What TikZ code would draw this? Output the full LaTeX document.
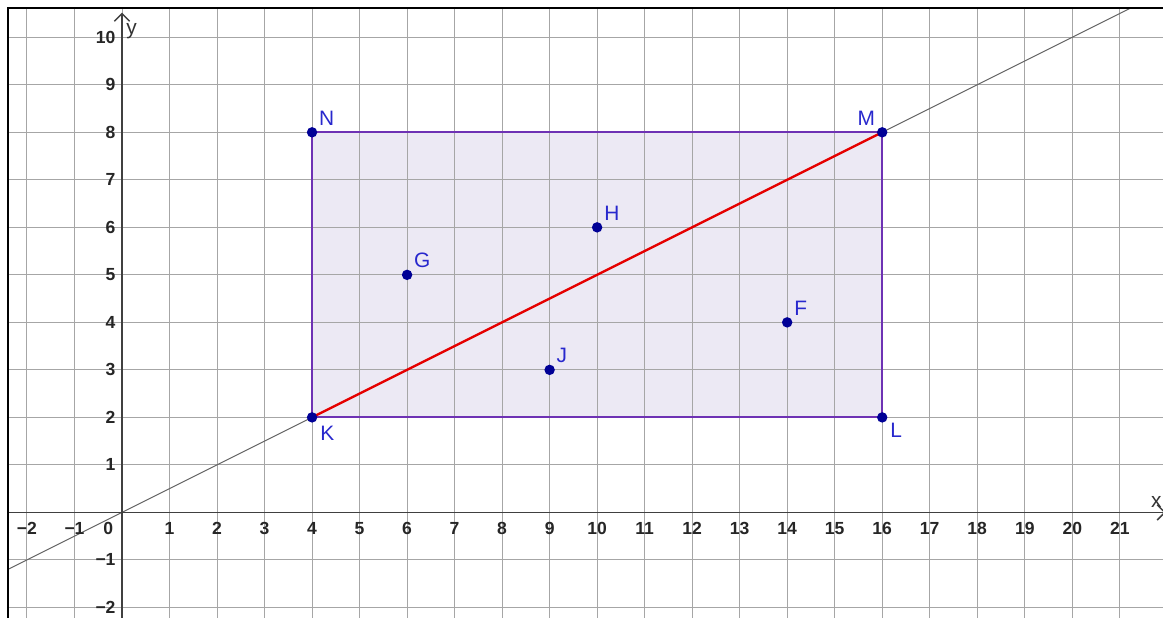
\documentclass[tikz,border=0pt]{standalone}
\usepackage{fontspec}
\setmainfont{Liberation Sans}
\usetikzlibrary{arrows.meta}

\definecolor{rectfill}{RGB}{233,229,242}
\definecolor{rectedge}{RGB}{110,50,180}
\definecolor{ptblue}{RGB}{0,0,150}
\definecolor{lblblue}{RGB}{40,40,205}

\begin{document}
\begin{tikzpicture}[
  >={Straight Barb[length=1.6mm,width=3.2mm]},
  gridline/.style={gray!70, line width=0.6pt},
  axis/.style={black!75, line width=0.9pt},
  ticklabel/.style={font=\bfseries\fontsize{10.5}{12}\selectfont, inner sep=0pt, text=black!85},
  pt/.style={circle, fill=ptblue, inner sep=0pt, minimum size=2.2mm},
  ptlabel/.style={text=lblblue, font=\fontsize{12.5}{14}\selectfont, inner sep=1pt, label distance=1pt},
  side/.style={draw=rectedge, line width=1.3pt},
  diag/.style={red!90!black, line width=1.4pt},
  through/.style={black!60, line width=0.6pt}
]
\useasboundingbox (-2.568,-2.205) rectangle (21.91,10.785);

% Frame and grid
\begin{scope}
  \clip (-2.40,-2.3) rectangle (21.95,10.617);
  \foreach \x in {-2,...,21}
    \draw[gridline] (\x,-2.3) -- (\x,10.7);
  \foreach \y in {-2,...,10}
    \draw[gridline] (-2.5,\y) -- (22,\y);

  % Rectangle KLMN
  \coordinate (K) at (4,2);
  \coordinate (L) at (16,2);
  \coordinate (M) at (16,8);
  \coordinate (N) at (4,8);
  \fill[rectfill, opacity=0.85] (K) -- (L) -- (M) -- (N) -- cycle;
  \foreach \x in {5,...,15}
    \draw[gridline] (\x,2) -- (\x,8);
  \foreach \y in {3,...,7}
    \draw[gridline] (4,\y) -- (16,\y);

  % Line y = x/2
  \coordinate (lineA) at (-2.8,-1.4);
  \coordinate (lineB) at (21.4,10.7);
  \draw[through] (lineA) -- (lineB);

  % Axes
  \coordinate (xstart) at (-2.5,0);
  \coordinate (xend) at (21.97,0);
  \coordinate (ystart) at (0,-2.3);
  \coordinate (yend) at (0,10.52);
  \draw[axis, ->] (xstart) -- (xend);
  \draw[axis, ->] (ystart) -- (yend);

  \draw[side] (K) -- (L) -- (M) -- (N) -- cycle;
  \draw[diag] (K) -- (M);
\end{scope}
\draw[line width=1.3pt] (-2.40,-2.3) |- (21.95,10.617);

% Axis labels
\node[font=\fontsize{12.5}{14}\selectfont, text=black!80] (xlabel) at (21.77,0.22) {x};
\node[font=\fontsize{12.5}{14}\selectfont, text=black!80] (ylabel) at (0.2,10.12) {y};

% Tick labels
\foreach \x/\t in {-2/−2,-1/−1,1/1,2/2,3/3,4/4,5/5,6/6,7/7,8/8,9/9,10/10,11/11,12/12,13/13,14/14,15/15,16/16,17/17,18/18,19/19,20/20,21/21}
  \node[ticklabel] (xt\t) at (\x,-0.33) {\t};
\node[ticklabel] (origin) at (-0.29,-0.33) {0};
\foreach \y/\t in {-2/−2,-1/−1,1/1,2/2,3/3,4/4,5/5,6/6,7/7,8/8,9/9,10/10}
  \node[ticklabel, anchor=east] (yt\t) at (-0.13,\y) {\t};

% Points
\node[pt, label={[ptlabel]above right:N}] (dN) at (N) {};
\node[pt, label={[ptlabel]above left:M}] (dM) at (M) {};
\node[pt, label={[ptlabel, label distance=2pt]below right:K}] (dK) at (K) {};
\node[pt, label={[ptlabel]-30:L}] (dL) at (L) {};
\node[pt, label={[ptlabel]above right:H}] (dH) at (10,6) {};
\node[pt, label={[ptlabel]above right:G}] (dG) at (6,5) {};
\node[pt, label={[ptlabel]above right:J}] (dJ) at (9,3) {};
\node[pt, label={[ptlabel]above right:F}] (dF) at (14,4) {};

\end{tikzpicture}
\end{document}
